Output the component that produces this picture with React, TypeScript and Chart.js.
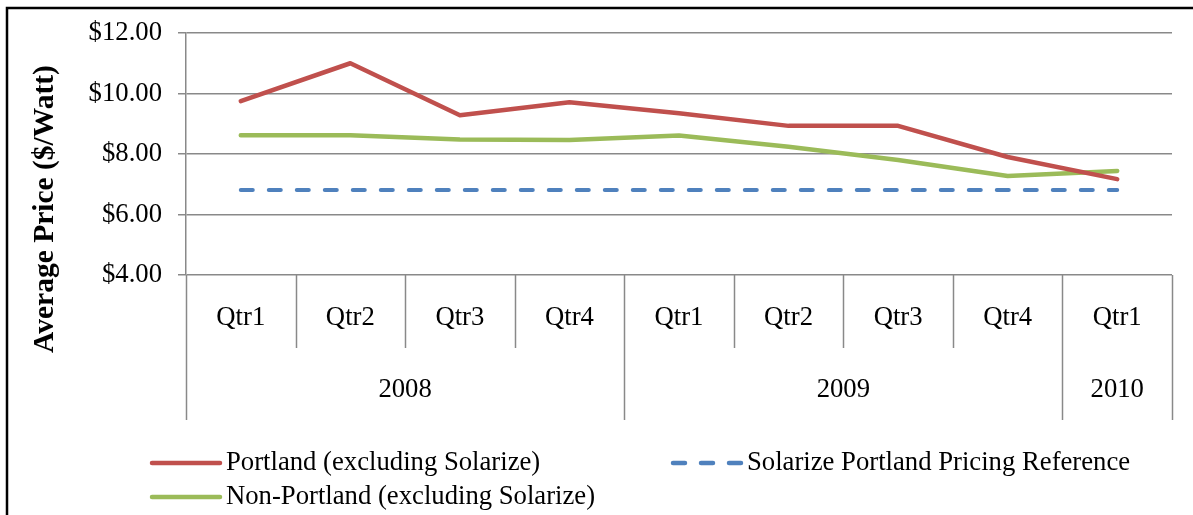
import React, { useEffect, useRef } from "react";
import { Chart, registerables } from "chart.js";

Chart.register(...registerables);

const quarterLabels = ["Qtr1", "Qtr2", "Qtr3", "Qtr4", "Qtr1", "Qtr2", "Qtr3", "Qtr4", "Qtr1"];
const yearLabels = ["2008", "2009", "2010"];
const yearSpans = [4, 4, 1];
const portland = [9.75, 11.0, 9.28, 9.71, 9.35, 8.93, 8.93, 7.9, 7.17];
const nonPortland = [8.62, 8.62, 8.48, 8.46, 8.61, 8.24, 7.8, 7.27, 7.44];
const solarizeRef = [6.81, 6.81, 6.81, 6.81, 6.81, 6.81, 6.81, 6.81, 6.81];
const yTicks = [4, 6, 8, 10, 12];

const seriesNames = [
  "Portland (excluding Solarize)",
  "Solarize Portland Pricing Reference",
  "Non-Portland (excluding Solarize)",
];
const RED = "#C0504D";
const BLUE = "#4F81BD";
const GREEN = "#9BBB59";
const GRID = "#898989";
const FONT = "'Liberation Serif', 'Times New Roman', serif";
const FS = 26.7;

const decorPlugin = {
  id: "decor",
  afterDraw(chart: any) {
    const ctx = chart.ctx;
    const x = chart.scales.x;
    const area = chart.chartArea;
    const n = quarterLabels.length;
    const step = (x.getPixelForValue(1) - x.getPixelForValue(0));
    const qBottom = area.bottom + 73;
    const yBottom = area.bottom + 145;
    ctx.save();
    ctx.strokeStyle = GRID;
    ctx.lineWidth = 1.5;
    // category separators
    const boundaries: number[] = [0];
    let acc = 0;
    yearSpans.forEach((s) => { acc += s; boundaries.push(acc); });
    for (let i = 0; i <= n; i++) {
      const px = Math.round(x.getPixelForValue(0) - step / 2 + i * step) + 0.5;
      const isYear = boundaries.includes(i);
      ctx.beginPath();
      ctx.moveTo(px, area.bottom);
      ctx.lineTo(px, isYear ? yBottom : qBottom);
      ctx.stroke();
    }
    // year labels
    ctx.fillStyle = "#000";
    ctx.font = `${FS}px ${FONT}`;
    ctx.textAlign = "center";
    ctx.textBaseline = "middle";
    let start = 0;
    yearLabels.forEach((lbl, k) => {
      const end = start + yearSpans[k];
      const cx = (x.getPixelForValue(start) + x.getPixelForValue(end - 1)) / 2;
      ctx.fillText(lbl, cx, area.bottom + 115);
      start = end;
    });
    // axis title
    ctx.save();
    ctx.translate(45, 209);
    ctx.rotate(-Math.PI / 2);
    ctx.font = `bold 29.5px ${FONT}`;
    ctx.fillText("Average Price ($/Watt)", 0, 0);
    ctx.restore();
    // legend
    const items = [
      { name: seriesNames[0], color: RED, dash: [], x: 152, y: 463 },
      { name: seriesNames[1], color: BLUE, dash: [12, 16], x: 673, y: 463 },
      { name: seriesNames[2], color: GREEN, dash: [], x: 152, y: 497 },
    ];
    items.forEach((it) => {
      ctx.beginPath();
      ctx.strokeStyle = it.color;
      ctx.lineWidth = 4.5;
      ctx.lineCap = "round";
      ctx.setLineDash(it.dash);
      ctx.moveTo(it.x, it.y);
      ctx.lineTo(it.x + 68, it.y);
      ctx.stroke();
      ctx.setLineDash([]);
      ctx.fillStyle = "#000";
      ctx.font = `${FS}px ${FONT}`;
      ctx.textAlign = "left";
      ctx.textBaseline = "middle";
      ctx.fillText(it.name, it.x + 74, it.y);
    });
    // outer frame
    ctx.strokeStyle = "#000";
    ctx.lineWidth = 2.5;
    ctx.lineCap = "butt";
    ctx.strokeRect(7, 8, chart.width + 20, chart.height + 20);
    ctx.restore();
  },
};

export default function App() {
  const ref = useRef<HTMLCanvasElement | null>(null);
  useEffect(() => {
    if (!ref.current) return;
    const chart = new Chart(ref.current, {
      type: "line",
      data: {
        labels: quarterLabels,
        datasets: [
          {
            label: seriesNames[0],
            data: portland,
            borderColor: RED,
            backgroundColor: RED,
            borderWidth: 4.5,
            pointRadius: 0,
            borderCapStyle: "round",
            borderJoinStyle: "round",
            tension: 0,
          },
          {
            label: seriesNames[1],
            data: solarizeRef,
            borderColor: BLUE,
            backgroundColor: BLUE,
            borderWidth: 4,
            borderDash: [12, 16],
            borderCapStyle: "round",
            pointRadius: 0,
            tension: 0,
          },
          {
            label: seriesNames[2],
            data: nonPortland,
            borderColor: GREEN,
            backgroundColor: GREEN,
            borderWidth: 4.5,
            pointRadius: 0,
            borderCapStyle: "round",
            borderJoinStyle: "round",
            tension: 0,
          },
        ],
      },
      options: {
        responsive: false,
        animation: false,
        devicePixelRatio: 1,
        layout: { padding: { top: 33, right: 21, left: 0, bottom: 0 } },
        plugins: {
          legend: { display: false },
          tooltip: { enabled: false },
          title: { display: false },
        },
        scales: {
          x: {
            type: "category",
            offset: true,
            grid: { display: false, drawTicks: false },
            border: { display: false },
            ticks: {
              color: "#000",
              font: { family: FONT, size: FS },
              padding: 27,
              maxRotation: 0,
              autoSkip: false,
            },
            afterFit: (s: any) => { s.height = 240; },
          },
          y: {
            min: 4,
            max: 12,
            afterBuildTicks: (s: any) => { s.ticks = yTicks.map((v) => ({ value: v })); },
            ticks: {
              color: "#000",
              font: { family: FONT, size: FS },
              padding: 16,
              callback: (v: any) => "$" + Number(v).toFixed(2),
            },
            grid: { color: GRID, lineWidth: 1.5, tickLength: 8, drawTicks: true },
            border: { display: true, color: GRID, width: 1.5 },
            afterFit: (s: any) => { s.width = 186; },
          },
        },
      },
      plugins: [decorPlugin],
    });
    return () => chart.destroy();
  }, []);
  return (
    <div style={{ position: "fixed", left: 0, top: 0, width: 1193, height: 515, background: "#fff" }}>
      <canvas ref={ref} width={1193} height={515} />
    </div>
  );
}
